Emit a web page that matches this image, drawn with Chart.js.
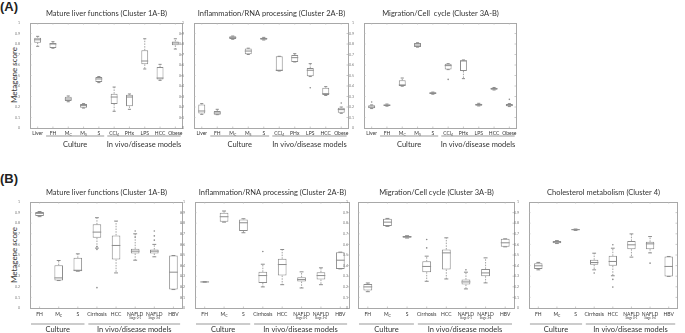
<!DOCTYPE html>
<html>
<head>
<meta charset="utf-8">
<script src="https://cdn.jsdelivr.net/npm/chart.js@4.4.1/dist/chart.umd.min.js"></script>
<style>
body { margin:0; background:#fff; width:685px; height:333px; position:relative; overflow:hidden; font-family:Lato, "Liberation Sans", sans-serif; color:#333; }
canvas { position:absolute; }
.tag { position:absolute; font-family:"Liberation Sans", Arial, sans-serif; font-weight:bold; font-size:13px; color:#222; }
.ylab { position:absolute; width:60px; height:10px; line-height:10px; text-align:center; font-size:8px; transform:rotate(-90deg); white-space:nowrap; color:#333; }
</style>
</head>
<body>
<div class="tag" style="left:0;top:-1px">(A)</div>
<div class="tag" style="left:0;top:171px">(B)</div>
<div class="ylab" style="left:-16px;top:70px">Metagene score</div>
<div class="ylab" style="left:-16px;top:250px">Metagene score</div>
<script>
// categories ("_" = subscript, "|" = small second line)
var catsA = ['Liver', 'FH', 'M_C', 'M_S', 'S', 'CCl_4', 'PHx', 'LPS', 'HCC', 'Obese'];
var catsB = ['FH', 'M_C', 'S', 'Cirrhosis', 'HCC', 'NAFLD|Stage 0-1', 'NAFLD|Stage 3-4', 'HBV'];

// box stats per category: [min, q1, median, q3, max]
var liverA = [[0.778,0.813,0.84,0.86,0.873],[0.76,0.762,0.80,0.81,0.822],[0.25,0.257,0.276,0.298,0.305],
  [0.19,0.194,0.213,0.229,0.232],[0.432,0.438,0.467,0.486,0.49],[0.159,0.229,0.295,0.327,0.39],
  [0.178,0.206,0.295,0.317,0.324],[0.562,0.606,0.638,0.74,0.85],[0.454,0.463,0.476,0.581,0.606],
  [0.752,0.787,0.81,0.825,0.85]];
var inflamA = [[0.13,0.137,0.162,0.225,0.232],[0.127,0.127,0.143,0.162,0.178],[0.845,0.848,0.86,0.873,0.876],
  [0.70,0.702,0.733,0.756,0.76],[0.838,0.841,0.851,0.86,0.863],[0.543,0.543,0.55,0.683,0.683],
  [0.629,0.629,0.67,0.695,0.708],[0.49,0.492,0.55,0.571,0.613],[0.31,0.314,0.327,0.384,0.394],
  [0.14,0.146,0.175,0.194,0.2]];
var migA = [[0.185,0.187,0.2,0.216,0.22],[0.208,0.21,0.218,0.225,0.228],[0.398,0.4,0.41,0.454,0.476],
  [0.77,0.771,0.79,0.81,0.812],[0.322,0.324,0.332,0.34,0.342],[0.556,0.556,0.594,0.613,0.613],
  [0.47,0.543,0.64,0.644,0.648],[0.21,0.213,0.222,0.232,0.235],[0.362,0.365,0.374,0.384,0.386],
  [0.204,0.206,0.218,0.229,0.232]];
var liverB = [[0.862,0.868,0.893,0.905,0.91],[0.259,0.259,0.284,0.404,0.448],[0.347,0.347,0.356,0.473,0.511],
  [0.565,0.662,0.716,0.789,0.852],[0.331,0.457,0.59,0.685,0.82],[0.451,0.514,0.536,0.558,0.70],
  [0.483,0.514,0.536,0.552,0.60],[0.174,0.174,0.338,0.495,0.495]];
var inflamB = [[0.244,0.244,0.246,0.248,0.248],[0.81,0.814,0.861,0.899,0.915],[0.71,0.726,0.804,0.836,0.842],
  [0.199,0.237,0.306,0.341,0.413],[0.22,0.306,0.41,0.464,0.552],[0.189,0.249,0.268,0.29,0.341],
  [0.22,0.268,0.306,0.338,0.379],[0.369,0.369,0.451,0.527,0.527]];
var migB = [[0.154,0.164,0.199,0.227,0.236],[0.77,0.773,0.81,0.842,0.845],[0.66,0.662,0.672,0.68,0.682],
  [0.252,0.338,0.392,0.44,0.489],[0.274,0.363,0.52,0.552,0.662],[0.18,0.221,0.246,0.268,0.338],
  [0.237,0.3,0.331,0.369,0.473],[0.577,0.577,0.615,0.653,0.653]];
var cholB = [[0.36,0.367,0.398,0.423,0.43],[0.608,0.611,0.622,0.633,0.636],[0.732,0.734,0.739,0.743,0.745],
  [0.36,0.408,0.429,0.455,0.517],[0.304,0.398,0.439,0.492,0.564],[0.48,0.555,0.596,0.633,0.699],
  [0.52,0.555,0.605,0.624,0.674],[0.298,0.298,0.392,0.486,0.486]];

// outliers: [category index, value]
var liverAOut = [];
var inflamAOut = [[7,0.384],[9,0.238]];
var migAOut = [[0,0.248],[5,0.463],[9,0.273]];
var liverBOut = [[3,0.192],[3,0.58],[3,0.553],[5,0.726],[5,0.67],[6,0.726],[6,0.64],[6,0.68]];
var inflamBOut = [[3,0.533]];
var migBOut = [[3,0.567],[3,0.646],[5,0.36]];
var cholBOut = [[3,0.33],[4,0.596],[4,0.27],[4,0.197],[6,0.423]];

var FONT = 'Lato, "Liberation Sans", sans-serif';
var BOX = '#8c8c8c';
var TXT = '#333';

function font(px) { return px + 'px ' + FONT; }

function drawCatLabel(ctx, text, x, y) {
  var parts = text.split('|');
  var m = parts[0].split('_');
  ctx.fillStyle = TXT;
  ctx.textBaseline = 'middle';
  ctx.font = font(5);
  var w1 = ctx.measureText(m[0]).width, w2 = 0;
  if (m[1]) { ctx.font = font(3.5); w2 = ctx.measureText(m[1]).width; }
  var x0 = x - (w1 + w2) / 2;
  ctx.textAlign = 'left';
  ctx.font = font(5);
  ctx.fillText(m[0], x0, y);
  if (m[1]) { ctx.font = font(3.5); ctx.fillText(m[1], x0 + w1, y + 1.5); }
  if (parts[1]) { ctx.font = font(2.8); ctx.textAlign = 'center'; ctx.fillText(parts[1], x, y + 4.3); }
}

function boxPlugin(p) {
  return {
    id: 'box' + p.x + '_' + p.y,
    beforeDatasetsDraw: function(chart) {
      var ctx = chart.ctx, y = chart.scales.y;
      var els = chart.getDatasetMeta(0).data;
      ctx.save();
      ctx.strokeStyle = BOX; ctx.lineWidth = 0.8;
      ctx.setLineDash([1.5, 1.2]);
      p.stats.forEach(function(s, i) {
        var x = els[i].x;
        ctx.beginPath();
        ctx.moveTo(x, y.getPixelForValue(s[3])); ctx.lineTo(x, y.getPixelForValue(s[4]));
        ctx.moveTo(x, y.getPixelForValue(s[1])); ctx.lineTo(x, y.getPixelForValue(s[0]));
        ctx.stroke();
      });
      ctx.restore();
    },
    afterDatasetsDraw: function(chart) {
      var ctx = chart.ctx, y = chart.scales.y, xs = chart.scales.x;
      var els = chart.getDatasetMeta(0).data;
      ctx.save();
      ctx.strokeStyle = BOX; ctx.lineWidth = 1;
      p.stats.forEach(function(s, i) {
        var x = els[i].x, hw = els[i].width / 2;
        var ym = y.getPixelForValue(s[2]);
        ctx.beginPath();
        ctx.moveTo(x - hw, ym); ctx.lineTo(x + hw, ym);
        var c = hw * 0.45;
        [s[0], s[4]].forEach(function(v) {
          var yy = y.getPixelForValue(v);
          ctx.moveTo(x - c, yy); ctx.lineTo(x + c, yy);
        });
        ctx.stroke();
      });
      ctx.fillStyle = BOX;
      p.out.forEach(function(o) {
        ctx.beginPath();
        ctx.arc(xs.getPixelForValue(o[0]), y.getPixelForValue(o[1]), 0.8, 0, Math.PI * 2);
        ctx.fill();
      });
      ctx.restore();
    },
    afterDraw: function(chart) {
      var ctx = chart.ctx, a = chart.chartArea, xs = chart.scales.x, y = chart.scales.y;
      ctx.save();
      // frame and small inner ticks
      ctx.strokeStyle = '#a8a8a8'; ctx.lineWidth = 1;
      ctx.strokeRect(Math.round(a.left) + 0.5, Math.round(a.top) + 0.5, Math.round(a.right - a.left) - 1, Math.round(a.bottom - a.top));
      ctx.strokeStyle = '#b5b5b5'; ctx.lineWidth = 0.7;
      ctx.beginPath();
      for (var v = 1; v < 10; v++) {
        var yy = y.getPixelForValue(v / 10);
        ctx.moveTo(a.left, yy); ctx.lineTo(a.left + 1.5, yy);
        ctx.moveTo(a.right - 1, yy); ctx.lineTo(a.right - 2.5, yy);
      }
      p.cats.forEach(function(c, i) {
        var xx = xs.getPixelForValue(i);
        ctx.moveTo(xx, a.top); ctx.lineTo(xx, a.top + 1.5);
        ctx.moveTo(xx, a.bottom); ctx.lineTo(xx, a.bottom - 1.5);
      });
      ctx.stroke();
      // title
      ctx.fillStyle = TXT; ctx.textAlign = 'center'; ctx.textBaseline = 'middle';
      ctx.font = font(7.5);
      ctx.fillText(p.title, (a.left + a.right) / 2, a.top - 9.5);
      // category labels
      p.cats.forEach(function(c, i) {
        drawCatLabel(ctx, c, xs.getPixelForValue(i), a.bottom + p.lab);
      });
      // group labels with rules
      var sp = xs.getPixelForValue(1) - xs.getPixelForValue(0);
      p.groups.forEach(function(g) {
        var x1 = xs.getPixelForValue(g[1]) - 0.45 * sp;
        var x2 = Math.min(xs.getPixelForValue(g[2]) + 0.35 * sp, a.right);
        ctx.strokeStyle = '#9a9a9a'; ctx.lineWidth = 1.2;
        ctx.beginPath();
        ctx.moveTo(x1, a.bottom + p.rule); ctx.lineTo(x2, a.bottom + p.rule);
        ctx.stroke();
        ctx.fillStyle = TXT; ctx.textAlign = 'center'; ctx.font = font(7.5);
        ctx.fillText(g[0], (x1 + x2) / 2, a.bottom + p.grp);
      });
      ctx.restore();
    }
  };
}

function makePanel(p) {
  var PL = 16, PR = 4, PT = 16, PB = 30;
  var cv = document.createElement('canvas');
  cv.width = p.w + PL + PR;
  cv.height = p.h + PT + PB;
  cv.style.left = (p.x - PL) + 'px';
  cv.style.top = (p.y - PT) + 'px';
  document.body.appendChild(cv);
  new Chart(cv.getContext('2d'), {
    type: 'bar',
    data: {
      labels: p.cats,
      datasets: [{
        data: p.stats.map(function(s) { return [s[1], s[3]]; }),
        backgroundColor: '#fff',
        borderColor: BOX,
        borderWidth: 1,
        borderSkipped: false,
        barPercentage: 0.5,
        categoryPercentage: 0.9
      }]
    },
    options: {
      responsive: false,
      animation: false,
      layout: { padding: { top: PT, right: PR, left: 0, bottom: 0 } },
      plugins: { legend: { display: false }, tooltip: { enabled: false } },
      scales: {
        x: {
          offset: true,
          grid: { display: false },
          border: { display: false },
          ticks: { display: false },
          afterFit: function(s) { s.height = PB; }
        },
        y: {
          min: 0, max: 1,
          grid: { display: false },
          border: { display: false },
          ticks: {
            stepSize: 0.1, color: '#777', padding: 2,
            font: { size: 3.5, family: FONT },
            callback: function(v) { return v === 0 ? '0' : v === 1 ? '1' : v.toFixed(1); }
          },
          afterFit: function(s) { s.width = PL; }
        }
      }
    },
    plugins: [boxPlugin(p)]
  });
}

var groupsA = [['Culture', 1, 4], ['In vivo/disease models', 5, 9]];
var groupsB = [['Culture', 0, 2], ['In vivo/disease models', 3, 7]];

makePanel({ x: 30, y: 23, w: 153, h: 105, cats: catsA, stats: liverA, out: liverAOut, groups: groupsA, lab: 5, rule: 8, grp: 17, title: 'Mature liver functions (Cluster 1A-B)' });
makePanel({ x: 194, y: 23, w: 155, h: 105, cats: catsA, stats: inflamA, out: inflamAOut, groups: groupsA, lab: 5, rule: 8, grp: 17, title: 'Inflammation/RNA processing (Cluster 2A-B)' });
makePanel({ x: 364, y: 23, w: 153, h: 105, cats: catsA, stats: migA, out: migAOut, groups: groupsA, lab: 5, rule: 8, grp: 17, title: 'Migration/Cell  cycle (Cluster 3A-B)' });

makePanel({ x: 30, y: 202, w: 153, h: 106, cats: catsB, stats: liverB, out: liverBOut, groups: groupsB, lab: 6, rule: 16, grp: 22, title: 'Mature liver functions (Cluster 1A-B)' });
makePanel({ x: 195, y: 202, w: 155, h: 106, cats: catsB, stats: inflamB, out: inflamBOut, groups: groupsB, lab: 6, rule: 16, grp: 22, title: 'Inflammation/RNA processing (Cluster 2A-B)' });
makePanel({ x: 358, y: 202, w: 157, h: 106, cats: catsB, stats: migB, out: migBOut, groups: groupsB, lab: 6, rule: 16, grp: 22, title: 'Migration/Cell cycle (Cluster 3A-B)' });
makePanel({ x: 529, y: 202, w: 149, h: 106, cats: catsB, stats: cholB, out: cholBOut, groups: groupsB, lab: 6, rule: 16, grp: 22, title: 'Cholesterol metabolism (Cluster 4)' });
</script>
</body>
</html>
